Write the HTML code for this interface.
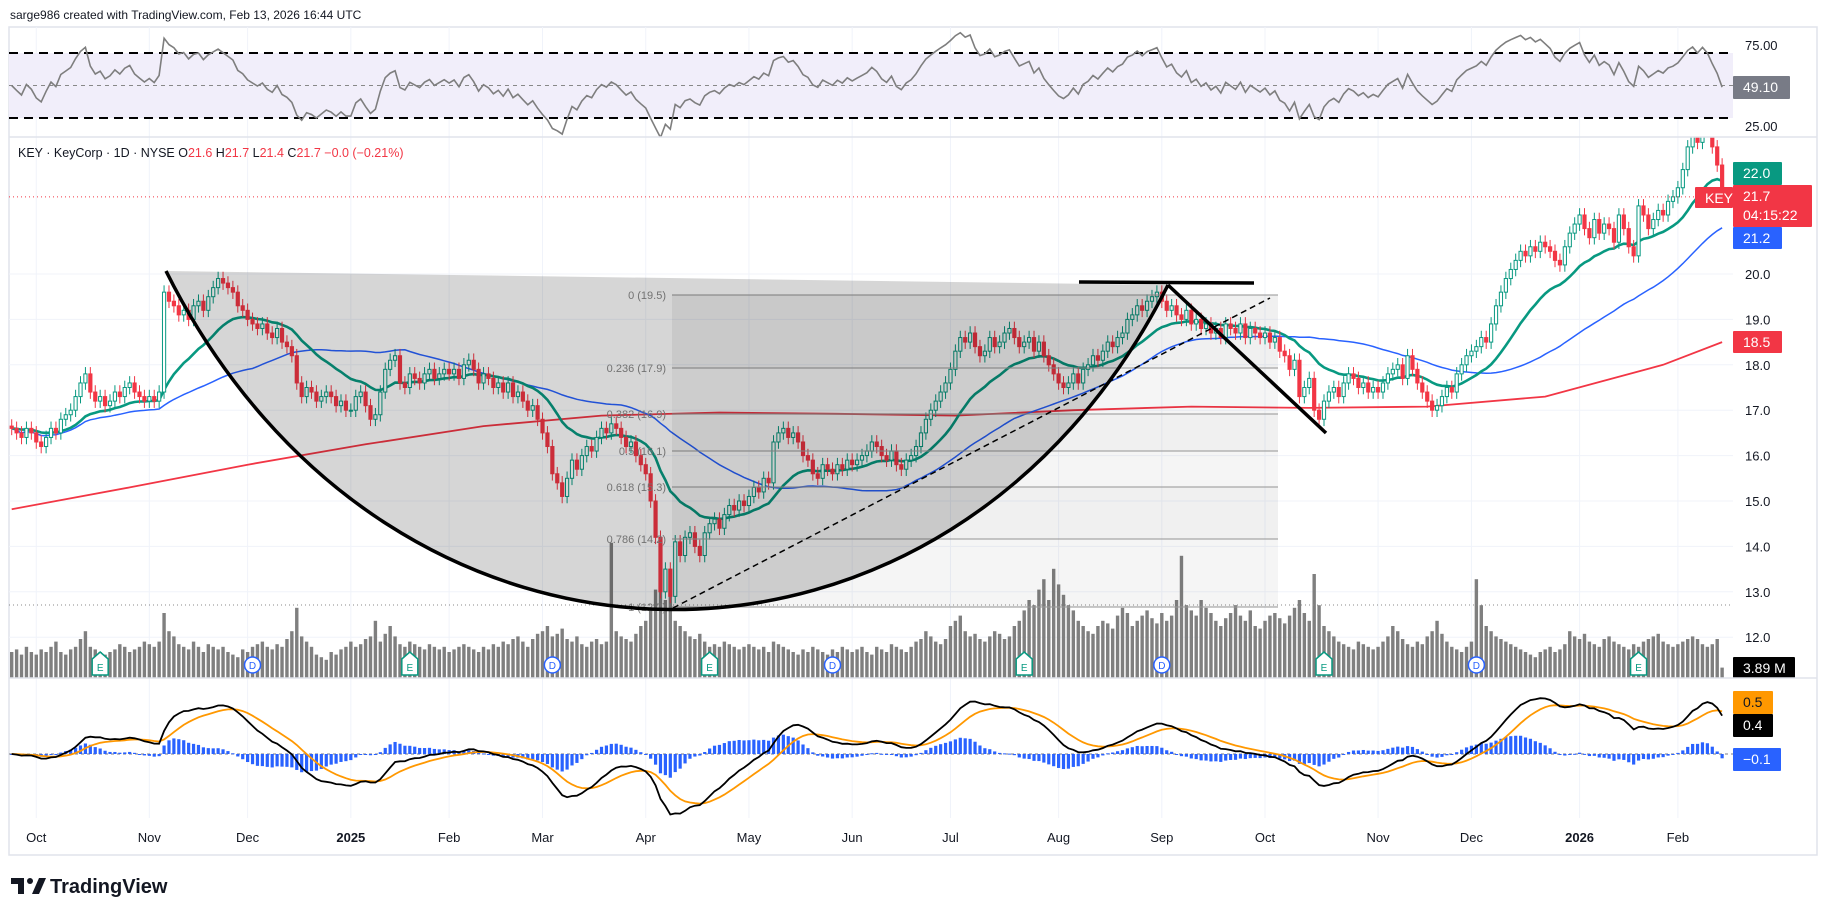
<!DOCTYPE html>
<html><head><meta charset="utf-8">
<style>
html,body{margin:0;padding:0;background:#fff;}
body{width:1827px;height:916px;overflow:hidden;font-family:"Liberation Sans",sans-serif;}
svg text{font-family:"Liberation Sans",sans-serif;}
</style></head>
<body>
<svg id="chart" width="1827" height="916" viewBox="0 0 1827 916" xmlns="http://www.w3.org/2000/svg">
<text x="10" y="19" font-size="12" fill="#131722">sarge986 created with TradingView.com, Feb 13, 2026 16:44 UTC</text>
<rect x="9" y="27" width="1808" height="828" fill="#fff" stroke="#e0e3eb" stroke-width="1.5"/>
<g id="grid"></g>
<g id="rsi"></g>
<g id="vol"></g>
<g id="ma"></g>
<g id="candles"></g>
<g id="draw"></g>
<g id="macd"></g>
<g id="axes"></g>
<line x1="9" y1="137" x2="1817" y2="137" stroke="#e0e3eb" stroke-width="1.5"/>
<line x1="9" y1="678" x2="1817" y2="678" stroke="#e0e3eb" stroke-width="1.5"/>
<text x="18" y="157" font-size="12.5" fill="#131722">KEY · KeyCorp · 1D · NYSE  O<tspan fill="#f23645">21.6</tspan>  H<tspan fill="#f23645">21.7</tspan>  L<tspan fill="#f23645">21.4</tspan>  C<tspan fill="#f23645">21.7</tspan>  <tspan fill="#f23645">−0.0 (−0.21%)</tspan></text>
<g>
<path d="M11 878 h13 v16 h-6 v-10 h-7z" fill="#131722"/><circle cx="30" cy="881" r="3" fill="#131722"/><path d="M32 894 l7 -16 h7 l-7 16z" fill="#131722"/>
<text x="50" y="893" font-size="20" font-weight="bold" fill="#131722">TradingView</text>
</g>
</svg>
<script>
const closes = [16.6,16.5,16.4,16.6,16.5,
16.3,16.2,16.4,16.6,16.5,16.8,16.9,17.0,17.3,17.6,17.8,17.4,17.2,17.3,17.1,17.2,17.4,17.3,17.5,17.6,17.4,17.3,17.2,
17.3,17.2,17.4,19.6,19.4,19.3,19.1,19.2,19.0,19.3,19.4,19.2,19.5,19.7,19.9,19.8,19.7,19.6,19.3,19.2,
19.0,18.9,18.8,18.9,18.7,18.6,18.8,18.5,18.4,18.2,17.6,17.3,17.5,17.4,17.2,17.3,17.4,17.3,17.1,17.2,17.0,
17.0,17.3,17.4,17.1,16.8,16.9,17.4,17.9,18.1,18.2,17.6,17.5,17.8,17.7,17.6,17.8,17.9,17.7,17.8,17.9,
17.8,17.9,17.7,18.0,18.1,17.9,17.6,17.8,17.7,17.5,17.6,17.4,17.6,17.3,17.4,17.2,17.0,17.1,16.8,
16.5,16.2,15.6,15.4,15.1,15.5,15.9,15.7,16.0,16.2,16.1,16.4,16.6,16.5,16.7,16.6,16.4,16.2,16.3,16.0,15.8,
15.6,15.0,14.2,13.0,13.5,12.9,14.1,13.8,14.2,14.3,14.0,13.8,14.3,14.5,14.6,14.4,14.7,14.9,14.8,15.0,14.9,
15.1,15.3,15.2,15.5,15.4,16.3,16.5,16.6,16.4,16.5,16.3,16.0,15.9,15.6,15.5,15.8,15.7,15.6,15.8,15.7,15.9,
15.8,15.9,16.0,16.1,16.3,16.2,16.0,15.9,16.1,15.8,15.7,15.9,16.0,16.2,16.5,16.8,17.0,17.2,17.4,17.6,
17.9,18.3,18.6,18.5,18.7,18.4,18.2,18.3,18.6,18.4,18.5,18.7,18.8,18.6,18.4,18.5,18.6,18.3,18.5,18.2,18.0,17.8,
17.6,17.5,17.6,17.8,17.6,17.9,18.0,18.2,18.1,18.3,18.5,18.4,18.6,18.7,19.0,19.1,19.3,19.2,19.4,19.5,19.6,
19.4,19.2,19.3,19.1,19.0,19.2,18.9,19.0,18.8,18.9,18.7,18.8,18.6,18.9,18.8,18.7,18.9,18.6,18.8,18.7,18.6,
18.7,18.5,18.6,18.3,18.2,17.9,18.1,17.3,17.5,17.7,17.0,16.8,17.2,17.4,17.5,17.3,17.6,17.8,17.7,17.5,17.6,17.4,17.5,
17.4,17.6,17.8,17.9,18.0,17.7,18.2,17.9,17.6,17.4,17.2,17.0,17.1,17.3,17.5,17.4,17.8,18.0,18.2,
18.3,18.4,18.6,18.5,18.9,19.3,19.6,19.9,20.1,20.3,20.5,20.4,20.6,20.5,20.7,20.6,20.5,20.3,20.2,20.6,20.9,21.1,
21.3,21.0,20.8,21.2,20.9,21.1,21.0,20.7,21.3,21.0,20.6,20.4,21.5,21.3,21.0,21.2,21.4,21.3,21.6,21.7,
21.9,22.3,22.8,23.1,22.9,23.4,23.2,22.8,22.4,21.7];
const volumes = [10,11,9,12,10,
9,11,10,12,14,10,9,11,12,15,18,12,11,10,9,10,11,13,12,10,11,12,14,
13,12,14,25,18,16,13,12,11,14,12,10,13,12,11,12,10,9,8,11,
10,12,13,14,12,11,13,12,15,18,27,16,14,12,9,8,7,10,9,11,12,
14,12,13,15,16,22,14,17,20,16,13,12,14,13,12,11,13,12,11,12,
10,11,12,13,12,11,10,12,11,13,12,14,13,15,16,14,12,15,17,
18,20,16,17,19,15,14,16,13,12,14,15,13,14,52,18,16,15,14,17,20,
22,26,34,38,30,33,22,20,18,16,15,17,14,12,13,12,14,13,12,11,12,
13,12,11,12,10,14,13,12,11,10,9,11,10,12,11,10,9,11,10,12,11,
10,11,12,10,9,12,11,10,13,12,11,10,12,14,15,18,16,14,13,15,
20,22,24,18,16,17,15,14,16,18,17,15,16,20,22,26,30,28,34,38,30,42,
36,32,28,26,22,20,18,17,20,22,21,19,24,27,25,20,22,24,26,23,21,
25,22,24,30,47,28,26,24,30,27,25,22,20,23,25,28,24,22,26,20,19,
22,24,25,23,21,24,27,30,25,22,40,28,20,18,16,14,13,12,11,14,13,12,11,
12,14,16,20,18,15,13,12,14,13,16,18,22,17,14,12,11,10,12,
14,38,28,20,18,16,15,14,13,12,11,10,9,8,10,11,12,10,11,13,18,16,
15,17,14,13,12,15,16,14,13,12,11,13,12,14,15,16,17,14,13,12,
13,14,15,16,15,13,12,13,15,4];
const ma200Idx = [0,24,48,72,96,120,144,168,192,216,240,264,288,312,336,348];
const ma200Val = [14.82,15.3,15.8,16.25,16.65,16.88,16.95,16.92,16.88,17.0,17.08,17.05,17.08,17.3,18.0,18.5];
const monthLabels = ["Oct","Nov","Dec","2025","Feb","Mar","Apr","May","Jun","Jul","Aug","Sep","Oct","Nov","Dec","2026","Feb"];
const monthIdx = [5,28,48,69,89,108,129,150,171,191,213,234,255,278,297,319,339];
const priceTicks = [20,19,18,17,16,15,14,13,12];
const earningsIdx = [18,81,142,206,267,331];
const dividendIdx = [49,110,167,234,298];

const NS="http://www.w3.org/2000/svg";
const X0=11.7, STEP=4.915, PLOT_R=1733;
const xS=i=>X0+i*STEP;
const yP=p=>274-(p-20)*45.4;
const yV=v=>678-v*2.6;
const yR=r=>85.5-(r-50)*1.62;
const yM=m=>754-m*74;
function el(tag,attrs,parent){const e=document.createElementNS(NS,tag);for(const k in attrs)e.setAttribute(k,attrs[k]);parent.appendChild(e);return e;}
const G=id=>document.getElementById(id);

const defs=el('defs',{},G('chart'));
const cp=el('clipPath',{id:'mainclip'},defs);el('rect',{x:9,y:137,width:PLOT_R-9,height:541},cp);
const cp2=el('clipPath',{id:'rsiclip'},defs);el('rect',{x:9,y:27,width:PLOT_R-9,height:110},cp2);
['vol','ma','candles','draw'].forEach(id=>G(id).setAttribute('clip-path','url(#mainclip)'));
G('rsi').setAttribute('clip-path','url(#rsiclip)');

monthIdx.forEach(i=>{const l=el('line',{x1:xS(i),y1:27,x2:xS(i),y2:818,stroke:'#f0f3fa','stroke-width':1},G('grid'));

});
priceTicks.forEach(p=>{const l=el('line',{x1:9,y1:yP(p),x2:PLOT_R,y2:yP(p),stroke:'#f0f3fa','stroke-width':1},G('grid'));

});

volumes.forEach((v,i)=>{const r=el('rect',{x:xS(i)-1.7,y:yV(v),width:3.4,height:678-yV(v),fill:'#7f7f7f'},G('vol'));

});

for(let i=0;i<closes.length;i++){
  const c=closes[i], o=i?closes[i-1]:c+0.05;
  const up=c>=o, col=up?'#089981':'#f23645';
  const hi=Math.max(o,c)+0.15, lo=Math.min(o,c)-0.15;
  const g=el('g',{},G('candles'));
  
  
  el('line',{x1:xS(i),x2:xS(i),y1:yP(hi),y2:yP(lo),stroke:col,'stroke-width':1},g);
  const t=yP(Math.max(o,c)),b=yP(Math.min(o,c));
  el('rect',{x:xS(i)-1.6,y:t,width:3.2,height:Math.max(1,b-t),fill:up?'#fff':col,stroke:col,'stroke-width':1},g);
}

function ema(arr,n){const k=2/(n+1);const out=[];let e=arr[0];arr.forEach((v,i)=>{e=i?v*k+e*(1-k):v;out.push(e);});return out;}
function sma(arr,n){return arr.map((v,i)=>{const s=arr.slice(Math.max(0,i-n+1),i+1);return s.reduce((a,b)=>a+b,0)/s.length;});}
const ma20=ema(closes,20), ma50=sma(closes,50);
function poly(pts,attrs,parent,name){const p=el('polyline',Object.assign({points:pts.map(q=>q[0].toFixed(1)+','+q[1].toFixed(1)).join(' '),fill:'none'},attrs),parent);

return p;}
poly(ma200Idx.map((ix,k)=>[xS(ix),yP(ma200Val[k])]),{stroke:'#f23645','stroke-width':1.8},G('ma'),'ma-200-line');
poly(ma50.map((v,i)=>[xS(i),yP(v)]),{stroke:'#2962ff','stroke-width':1.5},G('ma'),'ma-50-line');
poly(ma20.map((v,i)=>[xS(i),yP(v)]),{stroke:'#089981','stroke-width':2.6},G('ma'),'ma-20-line');

const D=G('draw');
el('line',{x1:9,y1:yP(21.7),x2:PLOT_R,y2:yP(21.7),stroke:'#f23645','stroke-width':1,'stroke-dasharray':'1,3'},D);
el('line',{x1:9,y1:605,x2:PLOT_R,y2:605,stroke:'#888','stroke-width':1,'stroke-dasharray':'1,3'},D);
const fibY=[295,368,414,451,487,539,607], fibL=["0 (19.5)","0.236 (17.9)","0.382 (16.9)","0.5 (16.1)","0.618 (15.3)","0.786 (14.2)","1 (12.7)"];
for(let k=0;k<6;k++) el('rect',{x:672,y:fibY[k],width:606,height:fibY[k+1]-fibY[k],fill:k%2?'rgba(0,0,0,0.04)':'rgba(0,0,0,0.06)'},D);
fibY.forEach((y,k)=>{el('line',{x1:672,y1:y,x2:1278,y2:y,stroke:'#999','stroke-width':1.5,opacity:0.7},D);
const t=el('text',{x:666,y:y+4,'font-size':11,fill:'#888','text-anchor':'end'},D);t.textContent=fibL[k];

});
const cup="M166,271 C390,720 950,720 1168,285";
const f=el('path',{d:cup+" L166,271 Z",fill:'rgba(0,0,0,0.16)'},D);


const a=el('path',{d:cup,fill:'none',stroke:'#000','stroke-width':3.5},D);


el('line',{x1:1079,y1:282,x2:1254,y2:283,stroke:'#000','stroke-width':3.5},D);
el('line',{x1:1168,y1:285,x2:1326,y2:433,stroke:'#000','stroke-width':3.5},D);
el('line',{x1:673,y1:608,x2:1270,y2:298,stroke:'#000','stroke-width':1.5,'stroke-dasharray':'6,4'},D);
earningsIdx.forEach(i=>{const g=el('g',{},D);
const x=xS(i);el('path',{d:`M${x-8},${659} L${x},${652} L${x+8},${659} V${675} H${x-8}Z`,fill:'#fff',stroke:'#089981','stroke-width':1.5},g);
const t=el('text',{x:x,y:671,'font-size':10,fill:'#089981','text-anchor':'middle'},g);t.textContent='E';});
dividendIdx.forEach(i=>{const g=el('g',{},D);
const x=xS(i);el('circle',{cx:x,cy:665,r:8,fill:'#fff',stroke:'#2962ff','stroke-width':1.5},g);
const t=el('text',{x:x,y:669,'font-size':10,fill:'#2962ff','text-anchor':'middle'},g);t.textContent='D';});

const R=G('rsi');
el('rect',{x:9,y:53,width:PLOT_R-9,height:65,fill:'#f1eefa'},R);
const rsi=[];{let ag=0.06,al=0.06;for(let i=0;i<closes.length;i++){if(i===0){rsi.push(50);continue;}const d=closes[i]-closes[i-1];const g=Math.max(d,0),l=Math.max(-d,0);
ag=(ag*13+g)/14;al=(al*13+l)/14;rsi.push(al===0?100:100-100/(1+ag/al));}}
el('line',{x1:9,y1:53,x2:PLOT_R,y2:53,stroke:'#000','stroke-width':2,'stroke-dasharray':'9,6'},R);
el('line',{x1:9,y1:118,x2:PLOT_R,y2:118,stroke:'#000','stroke-width':2,'stroke-dasharray':'9,6'},R);
el('line',{x1:9,y1:85.5,x2:PLOT_R,y2:85.5,stroke:'#888','stroke-width':1,'stroke-dasharray':'4,4'},R);
poly(rsi.map((v,i)=>[xS(i),yR(v)]),{stroke:'#7e7e7e','stroke-width':1.6},R,'rsi-line');

const M=G('macd');
const e12=ema(closes,12),e26=ema(closes,26);const macd=e12.map((v,i)=>v-e26[i]);const sig=ema(macd,9);
el('line',{x1:9,y1:754,x2:PLOT_R,y2:754,stroke:'#787b86','stroke-width':1,'stroke-dasharray':'3,3'},M);
macd.forEach((v,i)=>{const h=v-sig[i];const y=yM(h);const r=el('rect',{x:xS(i)-1.6,y:Math.min(y,754),width:3.2,height:Math.max(1,Math.abs(y-754)),fill:'#2962ff'},M);

});
poly(sig.map((v,i)=>[xS(i),yM(v)]),{stroke:'#ff9800','stroke-width':1.8},M,'macd-signal-line');
poly(macd.map((v,i)=>[xS(i),yM(v)]),{stroke:'#000','stroke-width':1.8},M,'macd-line');

const A=G('axes');
function txt(x,y,s,attrs,name){const t=el('text',Object.assign({x:x,y:y,'font-size':13,fill:'#131722'},attrs||{}),A);t.textContent=s;

return t;}
monthLabels.forEach((m,k)=>txt(xS(monthIdx[k]),842,m,{'text-anchor':'middle','font-weight':/^20/.test(m)?'bold':'normal'},'time-axis-label'));
priceTicks.forEach(p=>txt(1745,yP(p)+5,p.toFixed(1),{},'price-axis-label'));
txt(1745,50,'75.00',{},'rsi-axis-label');txt(1745,131,'25.00',{},'rsi-axis-label');
function badge(x,y,w,h,bg,lines,name,fg){const g=el('g',{},A);
el('rect',{x:x,y:y,width:w,height:h,fill:bg,rx:1},g);
lines.forEach((s,k)=>{const t=el('text',{x:x+10,y:y+16+k*19,'font-size':14,fill:fg||'#fff'},g);t.textContent=s;});}
badge(1733,76,57,23,'#787b86',['49.10'],'rsi-value-badge');
badge(1733,162,49,23,'#089981',['22.0'],'ma20-value-badge');
badge(1733,185,79,42,'#f23645',['21.7','04:15:22'],'price-countdown-badge');
badge(1695,187,38,21,'#f23645',['KEY'],'symbol-tag');
badge(1733,227,49,22,'#2962ff',['21.2'],'ma50-value-badge');
badge(1733,331,49,22,'#f23645',['18.5'],'ma200-value-badge');
badge(1733,657,62,21,'#000',['3.89 M'],'volume-value-badge');
badge(1733,691,40,23,'#ff9800',['0.5'],'macd-signal-badge','#131722');
badge(1733,714,40,23,'#000',['0.4'],'macd-value-badge');
badge(1733,748,48,23,'#2962ff',['−0.1'],'macd-histogram-badge');
</script>
</body></html>
